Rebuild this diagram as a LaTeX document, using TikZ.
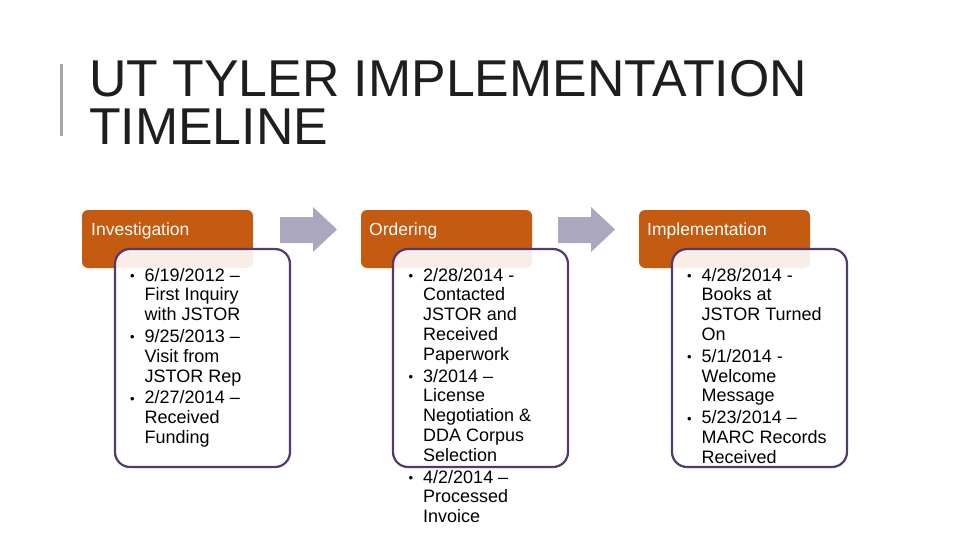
\documentclass[tikz,border=0pt]{standalone}
\usepackage{fontspec}
\setmainfont{Liberation Sans}
\definecolor{hdr}{RGB}{197,90,17}
\definecolor{arr}{RGB}{170,167,190}
\definecolor{brd}{RGB}{80,58,110}
\definecolor{ttl}{RGB}{30,30,30}
\definecolor{bar}{RGB}{166,166,166}
\newcommand\bl{{\fontsize{13}{13}\selectfont\raisebox{0.5pt}{•}}}
\newcommand\blist[1]{\begin{tabular}[t]{@{}p{14.5pt}@{}l@{}}#1\end{tabular}}
\begin{document}
\begin{tikzpicture}[x=1pt,y=-1pt,
  hdrbox/.style={fill=hdr, draw=none, rounded corners=6pt, minimum width=171pt, minimum height=58pt, anchor=north west, inner sep=0, outer sep=0},
  bodybox/.style={draw=brd, line width=2.2pt, fill=white, fill opacity=0.9, rounded corners=15pt, minimum width=175pt, minimum height=218pt, anchor=north west, inner sep=0, outer sep=0},
  hdrtext/.style={anchor=base west, inner sep=0, text=white, font=\fontsize{17.5}{20}\selectfont},
  bodytext/.style={anchor=base west, inner sep=0, text=black, font=\fontsize{18}{19.8}\selectfont},
  titletext/.style={anchor=base west, inner sep=0, text=ttl, font=\fontsize{51.8}{51.8}\selectfont},
  blockarrow/.style={fill=arr, draw=none}]
\useasboundingbox[fill=white] (0,0) rectangle (960,540);

% title
\draw[bar, line width=3pt] (61,64) -- (61,136);
\node[titletext] (title1) at (89,97) {UT TYLER IMPLEMENTATION};
\node[titletext] (title2) at (89,144.5) {TIMELINE};

% header boxes
\node[hdrbox] (h1) at (82,210) {};
\node[hdrbox] (h2) at (361,210) {};
\node[hdrbox] (h3) at (639,210) {};

% body boxes
\node[bodybox] (b1) at (115,249) {};
\node[bodybox] (b2) at (393,249) {};
\node[bodybox] (b3) at (672,249) {};

% header texts
\node[hdrtext] (ht1) at (91,235) {Investigation};
\node[hdrtext] (ht2) at (369,235) {Ordering};
\node[hdrtext] (ht3) at (647,235) {Implementation};

% arrows
\fill[blockarrow] (280,217) -- (313,217) -- (313,207) -- (337,229.5) -- (313,252) -- (313,243) -- (280,243) -- cycle;
\fill[blockarrow] (558,217) -- (591,217) -- (591,207) -- (615,229.5) -- (591,252) -- (591,243) -- (558,243) -- cycle;

% body texts
\node[bodytext] (t1) at (130,281) {\blist{%
\bl & 6/19/2012 – \\ & First Inquiry \\ & with JSTOR \\[2pt]
\bl & 9/25/2013 – \\ & Visit from \\ & JSTOR Rep \\[2pt]
\bl & 2/27/2014 – \\ & Received \\ & Funding}};
\node[bodytext] (t2) at (408.5,281) {\blist{%
\bl & 2/28/2014 - \\ & Contacted \\ & JSTOR and \\ & Received \\ & Paperwork \\[2pt]
\bl & 3/2014 – \\ & License \\ & Negotiation \& \\ & DDA Corpus \\ & Selection \\[2pt]
\bl & 4/2/2014 – \\ & Processed \\ & Invoice}};
\node[bodytext] (t3) at (687,281) {\blist{%
\bl & 4/28/2014 - \\ & Books at \\ & JSTOR Turned \\ & On \\[2pt]
\bl & 5/1/2014 - \\ & Welcome \\ & Message \\[2pt]
\bl & 5/23/2014 – \\ & MARC Records \\ & Received}};
\end{tikzpicture}
\end{document}
